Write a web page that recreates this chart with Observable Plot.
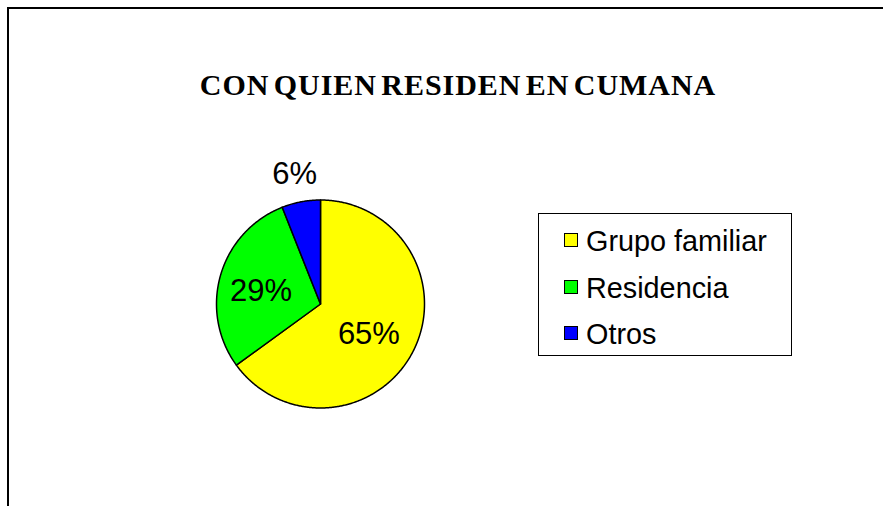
<!DOCTYPE html>
<html>
<head>
<meta charset="utf-8">
<script src="https://cdn.jsdelivr.net/npm/d3@7"></script>
<script src="https://cdn.jsdelivr.net/npm/@observablehq/plot@0.6"></script>
<style>
  html, body { margin: 0; padding: 0; background: #fff; overflow: hidden; }
  #wrap { position: relative; width: 883px; height: 506px; overflow: hidden; }
  #wrap svg { position: absolute; left: 0; top: 0; }
  #border { position: absolute; left: 7px; top: 7px; width: 1000px; height: 700px; border: 2px solid #000; box-sizing: border-box; }
  #title { position: absolute; left: 0; width: 916px; top: 70px; text-align: center;
    font-family: "Liberation Serif", "Times New Roman", serif; font-weight: bold; font-size: 30px; line-height: 30px; letter-spacing: 0.95px; word-spacing: -4px; color: #000; }
  #legend { position: absolute; left: 538px; top: 213px; width: 254px; height: 143px; border: 1.5px solid #000; box-sizing: border-box; background: #fff; }
  .item { position: absolute; left: 0; font-family: "Liberation Sans", Arial, sans-serif; font-size: 28.8px; line-height: 28px; color: #000; white-space: nowrap; }
  .sw { position: absolute; width: 14px; height: 14px; border: 1px solid #000; box-sizing: border-box; }
</style>
</head>
<body>
<div id="wrap">
  <div id="border"></div>
  <div id="title"></div>
  <div id="legend"></div>
</div>
<script>
const title = "CON QUIEN RESIDEN EN CUMANA";
const categories = ["Grupo familiar", "Residencia", "Otros"];
const values = [65, 29, 6];
const labels = ["65%", "29%", "6%"];
const colors = ["#FFFF00", "#00FF00", "#0000FF"];

const W = 883, H = 506;
const cx = 320, cy = 303.5, R = 104; // pie layout in pixels

const data = categories.map((c, i) => ({cat: c, value: values[i], label: labels[i]}));
const arcs = d3.pie().sort(null).value(d => d.value)(data);
const total = d3.sum(values);

// polygon outline for each slice (unit radius)
const pts = [];
arcs.forEach(a => {
  const n = Math.max(8, Math.ceil((a.endAngle - a.startAngle) * 180 / Math.PI * 2));
  pts.push({cat: a.data.cat, x: 0, y: 0});
  for (let k = 0; k <= n; k++) {
    const t = a.startAngle + (a.endAngle - a.startAngle) * k / n;
    pts.push({cat: a.data.cat, x: Math.sin(t), y: Math.cos(t)});
  }
  pts.push({cat: a.data.cat, x: 0, y: 0});
});

const labelPts = arcs.map(a => {
  const m = (a.startAngle + a.endAngle) / 2;
  const outside = a.data.value / total < 0.1;
  const r = outside ? 1.27 : 0.56;
  return {label: a.data.label, outside, x: r * Math.sin(m), y: r * Math.cos(m)};
});

const textStyle = {x: "x", y: "y", text: "label", fontSize: 31, fill: "#000",
  fontFamily: "Liberation Sans, Arial, sans-serif"};

const chart = Plot.plot({
  width: W, height: H,
  margin: 0,
  x: {domain: [-cx / R, (W - cx) / R], axis: null},
  y: {domain: [-(H - cy) / R, cy / R], axis: null},
  color: {domain: categories, range: colors},
  marks: [
    Plot.line(pts, {x: "x", y: "y", z: "cat", fill: "cat", stroke: "#000", strokeWidth: 1.5, curve: "linear", strokeLinejoin: "round"}),
    Plot.text(labelPts.filter(d => !d.outside), {...textStyle, dx: -3.5, dy: 3.5}),
    Plot.text(labelPts.filter(d => d.outside), {...textStyle, dx: -1, dy: 0})
  ],
  style: {background: "transparent"}
});
const wrap = document.getElementById("wrap");
wrap.insertBefore(chart, wrap.firstChild);

document.getElementById("title").textContent = title;

const legend = document.getElementById("legend");
const rowTops = [13, 60, 106];
categories.forEach((c, i) => {
  const sw = document.createElement("div");
  sw.className = "sw";
  sw.style.background = colors[i];
  sw.style.left = "25px";
  sw.style.top = (rowTops[i] + 6) + "px";
  legend.appendChild(sw);
  const t = document.createElement("div");
  t.className = "item";
  t.style.left = "47px";
  t.style.top = rowTops[i] + "px";
  t.textContent = c;
  legend.appendChild(t);
});
</script>
</body>
</html>
